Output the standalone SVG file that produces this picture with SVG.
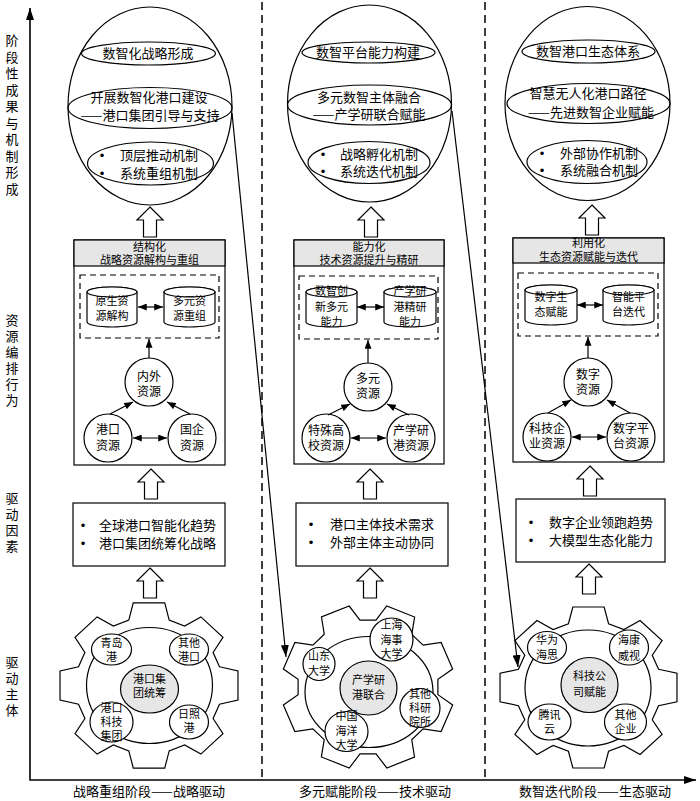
<svg xmlns="http://www.w3.org/2000/svg" width="700" height="801" viewBox="0 0 700 801">
<style>
.s{fill:#fff;stroke:#000;stroke-width:1.2}
.n{fill:none;stroke:#000;stroke-width:1.2}
.g{fill:#e6e6e6;stroke:#000;stroke-width:1.2}
.d{fill:none;stroke:#000;stroke-width:1.2;stroke-dasharray:6,4}
.sep{fill:none;stroke:#000;stroke-width:1.5;stroke-dasharray:8,5}
.ax{fill:none;stroke:#000;stroke-width:1.6}
text{font-family:"Noto Sans CJK SC","Noto Sans CJK JP",sans-serif;fill:#000}
.b{font-family:"Liberation Sans",sans-serif}
.f13{font-size:13px}
.f12{font-size:12px}
.f11{font-size:11px}
.m{text-anchor:middle}
</style>
<defs>
<marker id="ah" viewBox="0 0 10 8" refX="10" refY="4" markerWidth="9" markerHeight="7" orient="auto-start-reverse" markerUnits="userSpaceOnUse"><path d="M0,0 L10,4 L0,8 Z" fill="#000"/></marker>
<marker id="ah2" viewBox="0 0 12 8" refX="12" refY="4" markerWidth="12" markerHeight="8" orient="auto-start-reverse" markerUnits="userSpaceOnUse"><path d="M0,0 L12,4 L0,8 Z" fill="#000"/></marker>
<path id="gear" d="M66.3,-19 L83.7,-14.8 L83.7,14.8 L66.3,19 L60.3,33.5 L69.6,48.8 L48.8,69.6 L33.5,60.3 L19,66.3 L14.8,83.7 L-14.8,83.7 L-19,66.3 L-33.5,60.3 L-48.8,69.6 L-69.6,48.8 L-60.3,33.5 L-66.3,19 L-83.7,14.8 L-83.7,-14.8 L-66.3,-19 L-60.3,-33.5 L-69.6,-48.8 L-48.8,-69.6 L-33.5,-60.3 L-19,-66.3 L-14.8,-83.7 L14.8,-83.7 L19,-66.3 L33.5,-60.3 L48.8,-69.6 L69.6,-48.8 L60.3,-33.5 Z" fill="#fff" stroke="#000" stroke-width="1.2" vector-effect="non-scaling-stroke"/>
<path id="barrow" d="M0,0 L13,13 L6.5,13 L6.5,30 L-6.5,30 L-6.5,13 L-13,13 Z" fill="#fff" stroke="#000" stroke-width="1.2"/>
</defs>
<rect width="700" height="801" fill="#fff"/>

<!-- axes and separators -->
<g id="axes">
<polyline class="ax" points="30,8 30,780 696,780" marker-start="url(#ah2)" marker-end="url(#ah2)"/>
<line class="sep" x1="262" y1="2" x2="262" y2="780"/>
<line class="sep" x1="485" y1="2" x2="485" y2="780"/>
</g>

<g id="axis-labels" class="f13">
<text x="12" y="45" class="m">阶<tspan x="12" dy="16.5">段</tspan><tspan x="12" dy="16.5">性</tspan><tspan x="12" dy="16.5">成</tspan><tspan x="12" dy="16.5">果</tspan><tspan x="12" dy="16.5">与</tspan><tspan x="12" dy="16.5">机</tspan><tspan x="12" dy="16.5">制</tspan><tspan x="12" dy="16.5">形</tspan><tspan x="12" dy="16.5">成</tspan></text>
<text x="12" y="325" class="m">资<tspan x="12" dy="16">源</tspan><tspan x="12" dy="16">编</tspan><tspan x="12" dy="16">排</tspan><tspan x="12" dy="16">行</tspan><tspan x="12" dy="16">为</tspan></text>
<text x="12" y="503" class="m">驱<tspan x="12" dy="16">动</tspan><tspan x="12" dy="16">因</tspan><tspan x="12" dy="16">素</tspan></text>
<text x="12" y="667" class="m">驱<tspan x="12" dy="16">动</tspan><tspan x="12" dy="16">主</tspan><tspan x="12" dy="16">体</tspan></text>
<text x="149" y="796" class="m">战略重组阶段——战略驱动</text>
<text x="375" y="796" class="m">多元赋能阶段——技术驱动</text>
<text x="595" y="796" class="m">数智迭代阶段——生态驱动</text>
</g>

<!-- Column 1 outcome ellipse -->
<g id="outcome1" class="f13">
<ellipse class="n" cx="150" cy="106" rx="82" ry="99"/>
<ellipse class="n" cx="148.5" cy="53.5" rx="67" ry="11.5"/>
<ellipse class="n" cx="150" cy="108" rx="82" ry="20.5"/>
<ellipse class="n" cx="150.5" cy="163.5" rx="63" ry="21.5"/>
<text x="148" y="58" class="m">数智化战略形成</text>
<text x="149" y="102" class="m">开展数智化港口建设</text>
<text x="150" y="120" class="m">——港口集团引导与支持</text>
<text x="102" y="160" class="b m">•</text>
<text x="102" y="178" class="b m">•</text>
<text x="120" y="160">顶层推动机制</text>
<text x="120" y="178">系统重组机制</text>
</g>

<!-- Column 2 outcome ellipse -->
<g id="outcome2" class="f13">
<ellipse class="n" cx="369.5" cy="103.5" rx="82" ry="98.5"/>
<ellipse class="n" cx="368.5" cy="52.5" rx="66.5" ry="10.5"/>
<ellipse class="n" cx="369.5" cy="105" rx="82" ry="20"/>
<ellipse class="n" cx="369" cy="162.5" rx="61" ry="21"/>
<text x="368" y="57" class="m">数智平台能力构建</text>
<text x="369" y="102" class="m">多元数智主体融合</text>
<text x="369" y="119" class="m">——产学研联合赋能</text>
<text x="323" y="159" class="b m">•</text>
<text x="323" y="176" class="b m">•</text>
<text x="340" y="159">战略孵化机制</text>
<text x="340" y="176">系统迭代机制</text>
</g>

<!-- Column 3 outcome ellipse -->
<g id="outcome3" class="f13">
<ellipse class="n" cx="587.5" cy="103.5" rx="82.5" ry="97"/>
<ellipse class="n" cx="588.5" cy="51.5" rx="66.5" ry="11.5"/>
<ellipse class="n" cx="588.5" cy="103.5" rx="81.5" ry="20"/>
<ellipse class="n" cx="587" cy="162" rx="60" ry="21.5"/>
<text x="588" y="56" class="m">数智港口生态体系</text>
<text x="588" y="98" class="m">智慧无人化港口路径</text>
<text x="591" y="117" class="m">——先进数智企业赋能</text>
<text x="542" y="158" class="b m">•</text>
<text x="542" y="175" class="b m">•</text>
<text x="560" y="158">外部协作机制</text>
<text x="560" y="175">系统融合机制</text>
</g>

<!-- block arrows -->
<g id="block-arrows">
<use href="#barrow" transform="translate(150,207)"/>
<use href="#barrow" transform="translate(371,207)"/>
<use href="#barrow" transform="translate(592,205)"/>
<use href="#barrow" transform="translate(151,469)"/>
<use href="#barrow" transform="translate(370,469)"/>
<use href="#barrow" transform="translate(590,466)"/>
<use href="#barrow" transform="translate(150,568)"/>
<use href="#barrow" transform="translate(370,568)"/>
<use href="#barrow" transform="translate(589,564)"/>
</g>

<!-- Resource box 1 -->
<g id="resbox1">
<rect class="s" x="74" y="240" width="151" height="225"/>
<rect class="g" x="74" y="240" width="151" height="26"/>
<text x="149.5" y="250.5" class="f11 m">结构化</text>
<text x="149.5" y="264" class="f11 m">战略资源解构与重组</text>
<rect class="d" x="80" y="275" width="139" height="63"/>
</g>
<g id="cyl1a" class="f11">
<path class="s" d="M87,292 A25,5 0 0 1 137,292 L137,322 A25,5 0 0 1 87,322 Z"/>
<ellipse class="s" cx="112" cy="292" rx="25" ry="5"/>
<text x="112" y="305" class="m">原生资</text>
<text x="112" y="320" class="m">源解构</text>
</g>
<g id="cyl1b" class="f11">
<path class="s" d="M164,292 A25.5,5 0 0 1 215,292 L215,322 A25.5,5 0 0 1 164,322 Z"/>
<ellipse class="s" cx="189.5" cy="292" rx="25.5" ry="5"/>
<text x="189.5" y="305" class="m">多元资</text>
<text x="189.5" y="320" class="m">源重组</text>
</g>
<g id="c1top" class="f12"><circle class="s" cx="149" cy="382" r="24"/><text x="149" y="381" class="m">内外</text><text x="149" y="396" class="m">资源</text></g>
<g id="c1l" class="f12"><circle class="s" cx="108" cy="438" r="24"/><text x="108" y="434" class="m">港口</text><text x="108" y="450" class="m">资源</text></g>
<g id="c1r" class="f12"><circle class="s" cx="192" cy="438" r="24"/><text x="192" y="434" class="m">国企</text><text x="192" y="450" class="m">资源</text></g>

<!-- Resource box 2 -->
<g id="resbox2">
<rect class="s" x="294" y="240" width="150" height="224"/>
<rect class="g" x="294" y="240" width="150" height="26"/>
<text x="369" y="250.5" class="f11 m">能力化</text>
<text x="369" y="264" class="f11 m">技术资源提升与精研</text>
<rect class="d" x="299" y="276" width="139" height="63"/>
</g>
<g id="cyl2a" class="f11">
<path class="s" d="M306,292 A25.5,5 0 0 1 357,292 L357,322 A25.5,5 0 0 1 306,322 Z"/>
<ellipse class="s" cx="331.5" cy="292" rx="25.5" ry="5"/>
<text x="331.5" y="295" class="m">数智创</text>
<text x="331.5" y="311" class="m">新多元</text>
<text x="331.5" y="326" class="m">能力</text>
</g>
<g id="cyl2b" class="f11">
<path class="s" d="M384,292 A26,5 0 0 1 436,292 L436,322 A26,5 0 0 1 384,322 Z"/>
<ellipse class="s" cx="410" cy="292" rx="26" ry="5"/>
<text x="410" y="295" class="m">产学研</text>
<text x="410" y="311" class="m">港精研</text>
<text x="410" y="326" class="m">能力</text>
</g>
<g id="c2top" class="f12"><circle class="s" cx="368" cy="387" r="24"/><text x="368" y="383" class="m">多元</text><text x="368" y="398" class="m">资源</text></g>
<g id="c2l" class="f12"><circle class="s" cx="326" cy="438" r="24"/><text x="326" y="435" class="m">特殊高</text><text x="326" y="450" class="m">校资源</text></g>
<g id="c2r" class="f12"><circle class="s" cx="411" cy="438" r="24"/><text x="411" y="435" class="m">产学研</text><text x="411" y="450" class="m">港资源</text></g>

<!-- Resource box 3 -->
<g id="resbox3">
<rect class="s" x="513" y="238" width="151" height="224"/>
<rect class="g" x="513" y="238" width="151" height="25"/>
<text x="588.5" y="247" class="f11 m">利用化</text>
<text x="588.5" y="261" class="f11 m">生态资源赋能与迭代</text>
<rect class="d" x="518" y="273" width="140" height="63"/>
</g>
<g id="cyl3a" class="f11">
<path class="s" d="M525,290 A26,5 0 0 1 577,290 L577,320 A26,5 0 0 1 525,320 Z"/>
<ellipse class="s" cx="551" cy="290" rx="26" ry="5"/>
<text x="551" y="301" class="m">数字生</text>
<text x="551" y="316" class="m">态赋能</text>
</g>
<g id="cyl3b" class="f11">
<path class="s" d="M603,290 A25.5,5 0 0 1 654,290 L654,320 A25.5,5 0 0 1 603,320 Z"/>
<ellipse class="s" cx="628.5" cy="290" rx="25.5" ry="5"/>
<text x="628.5" y="301" class="m">智能平</text>
<text x="628.5" y="316" class="m">台迭代</text>
</g>
<g id="c3top" class="f12"><circle class="s" cx="588" cy="382" r="24"/><text x="588" y="379" class="m">数字</text><text x="588" y="394" class="m">资源</text></g>
<g id="c3l" class="f12"><circle class="s" cx="547" cy="437" r="24"/><text x="547" y="433" class="m">科技企</text><text x="547" y="448" class="m">业资源</text></g>
<g id="c3r" class="f12"><circle class="s" cx="631" cy="437" r="24"/><text x="631" y="433" class="m">数字平</text><text x="631" y="448" class="m">台资源</text></g>

<!-- Driver boxes -->
<g id="driver1" class="f13">
<rect class="s" x="73" y="503" width="152" height="63"/>
<text x="83" y="530" class="b m">•</text><text x="83" y="548" class="b m">•</text>
<text x="99" y="530">全球港口智能化趋势</text>
<text x="99" y="548">港口集团统筹化战略</text>
</g>
<g id="driver2" class="f13">
<rect class="s" x="296" y="503" width="152" height="63"/>
<text x="311" y="529" class="b m">•</text><text x="311" y="547" class="b m">•</text>
<text x="330" y="529">港口主体技术需求</text>
<text x="330" y="547">外部主体主动协同</text>
</g>
<g id="driver3" class="f13">
<rect class="s" x="516" y="499" width="149" height="63"/>
<text x="531" y="527" class="b m">•</text><text x="531" y="545" class="b m">•</text>
<text x="549" y="527">数字企业领跑趋势</text>
<text x="549" y="545">大模型生态化能力</text>
</g>

<!-- Gear 1 -->
<g id="gear1" class="f11">
<use href="#gear" transform="translate(149,685.5) scale(1.063,0.986)"/>
<ellipse class="n" cx="149.5" cy="685.5" rx="63" ry="58"/>
<ellipse class="g" cx="149.5" cy="689" rx="29" ry="24"/>
<text x="149.5" y="682.5" class="m">港口集</text><text x="149.5" y="697" class="m">团统筹</text>
</g>
<g id="g1a" class="f11"><ellipse class="s" cx="111.5" cy="649.5" rx="20" ry="15.5"/><text x="111.5" y="646.5" class="m">青岛</text><text x="111.5" y="661" class="m">港</text></g>
<g id="g1b" class="f11"><ellipse class="s" cx="189" cy="649.5" rx="19.5" ry="15.5"/><text x="189" y="646.5" class="m">其他</text><text x="189" y="661" class="m">港口</text></g>
<g id="g1c" class="f11"><ellipse class="s" cx="111.5" cy="722" rx="21.5" ry="20"/><text x="111.5" y="712" class="m">港口</text><text x="111.5" y="726" class="m">科技</text><text x="111.5" y="740" class="m">集团</text></g>
<g id="g1d" class="f11"><ellipse class="s" cx="189" cy="722" rx="19.5" ry="17"/><text x="189" y="717.5" class="m">日照</text><text x="189" y="732" class="m">港</text></g>

<!-- Gear 2 -->
<g id="gear2" class="f11">
<use href="#gear" transform="translate(368,687) scale(1.02,0.976) rotate(22.5)"/>
<ellipse class="n" cx="369" cy="692" rx="64" ry="55.5"/>
<ellipse class="g" cx="368.5" cy="688" rx="28.5" ry="27"/>
<text x="368.5" y="684" class="m">产学研</text><text x="368.5" y="699" class="m">港联合</text>
</g>
<g id="g2a" class="f11"><ellipse class="s" cx="319" cy="664" rx="16" ry="16.5"/><text x="319" y="660" class="m">山东</text><text x="319" y="675" class="m">大学</text></g>
<g id="g2b" class="f11"><ellipse class="s" cx="391.5" cy="639.5" rx="21.5" ry="21.5"/><text x="391.5" y="629" class="m">上海</text><text x="391.5" y="643.5" class="m">海事</text><text x="391.5" y="658" class="m">大学</text></g>
<g id="g2c" class="f11"><ellipse class="s" cx="420" cy="708" rx="20" ry="19.5"/><text x="420" y="697.5" class="m">其他</text><text x="420" y="711.5" class="m">科研</text><text x="420" y="725.5" class="m">院所</text></g>
<g id="g2d" class="f11"><ellipse class="s" cx="346.5" cy="731.5" rx="21.5" ry="20"/><text x="346.5" y="720" class="m">中国</text><text x="346.5" y="734.5" class="m">海洋</text><text x="346.5" y="749" class="m">大学</text></g>

<!-- Gear 3 -->
<g id="gear3" class="f11">
<use href="#gear" transform="translate(588.5,687.5) scale(1.057,0.962)"/>
<ellipse class="n" cx="588" cy="688" rx="63" ry="58"/>
<ellipse class="g" cx="589.5" cy="685" rx="28.5" ry="27.5"/>
<text x="589.5" y="680" class="m">科技公</text><text x="589.5" y="696" class="m">司赋能</text>
</g>
<g id="g3a" class="f11"><ellipse class="s" cx="547" cy="647.5" rx="19.5" ry="16"/><text x="547" y="644" class="m">华为</text><text x="547" y="659" class="m">海思</text></g>
<g id="g3b" class="f11"><ellipse class="s" cx="629" cy="647.5" rx="19.5" ry="17.5"/><text x="629" y="644" class="m">海康</text><text x="629" y="659.5" class="m">威视</text></g>
<g id="g3c" class="f11"><ellipse class="s" cx="549.5" cy="722" rx="21.5" ry="18"/><text x="549.5" y="718.5" class="m">腾讯</text><text x="549.5" y="733" class="m">云</text></g>
<g id="g3d" class="f11"><ellipse class="s" cx="625.5" cy="722" rx="21" ry="18"/><text x="625.5" y="718.5" class="m">其他</text><text x="625.5" y="733" class="m">企业</text></g>

<!-- connectors -->
<g id="connectors" class="n">
<line x1="110" y1="414" x2="133" y2="402" marker-end="url(#ah)"/>
<line x1="190" y1="414" x2="167" y2="402" marker-end="url(#ah)"/>
<line x1="133" y1="438" x2="167" y2="438" marker-start="url(#ah)" marker-end="url(#ah)"/>
<line x1="149" y1="358" x2="149" y2="339" marker-end="url(#ah)"/>
<line x1="138" y1="307" x2="163" y2="307" marker-start="url(#ah)" marker-end="url(#ah)"/>

<line x1="328" y1="415" x2="350" y2="404" marker-end="url(#ah)"/>
<line x1="409" y1="415" x2="387" y2="404" marker-end="url(#ah)"/>
<line x1="351" y1="438" x2="386" y2="438" marker-start="url(#ah)" marker-end="url(#ah)"/>
<line x1="368" y1="363" x2="368" y2="340" marker-end="url(#ah)"/>
<line x1="357" y1="307" x2="384" y2="307" marker-start="url(#ah)" marker-end="url(#ah)"/>

<line x1="548" y1="413" x2="571" y2="400" marker-end="url(#ah)"/>
<line x1="630" y1="413" x2="607" y2="400" marker-end="url(#ah)"/>
<line x1="572" y1="437" x2="606" y2="437" marker-start="url(#ah)" marker-end="url(#ah)"/>
<line x1="588" y1="358" x2="588" y2="337" marker-end="url(#ah)"/>
<line x1="577" y1="305" x2="603" y2="305" marker-start="url(#ah)" marker-end="url(#ah)"/>

<line x1="232" y1="113" x2="286" y2="657" marker-end="url(#ah2)"/>
<line x1="452" y1="111" x2="518" y2="667" marker-end="url(#ah2)"/>
</g>
</svg>
